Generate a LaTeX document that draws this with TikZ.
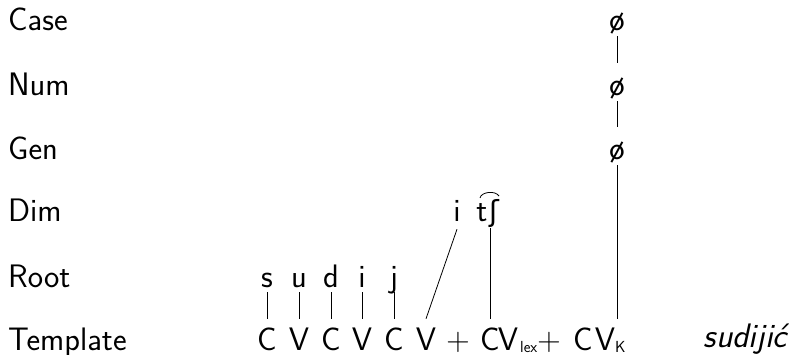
\documentclass[tikz,border=0pt]{standalone}
\usepackage{fontspec}
\newfontfamily\dejavu{DejaVu Sans}
\usetikzlibrary{calc}
\begin{document}
\begin{tikzpicture}[x=1pt,y=-1pt,
  every node/.style={inner sep=0pt, font=\sffamily\fontsize{32.5}{38}\selectfont},
  lbl/.style={anchor=base west},
  seg/.style={anchor=base, text depth=5pt},
  slot/.style={anchor=base, text height=31pt, text depth=0pt},
  plus/.style={anchor=base, font=\rmfamily\fontsize{32.5}{38}\selectfont},
  nul/.style={anchor=base, text height=33pt, text depth=5pt},
  sub/.style={anchor=base west, font=\sffamily\fontsize{16}{18}\selectfont},
  ln/.style={line width=0.8pt}]
\useasboundingbox (0,0) rectangle (789,355);
% row labels
\node[lbl] (lcase) at (8,31) {Case};
\node[lbl] (lnum)  at (8,96) {Num};
\node[lbl] (lgen)  at (8,160) {Gen};
\node[lbl] (ldim)  at (8,222) {Dim};
\node[lbl] (lroot) at (8,287) {Root};
\node[lbl] (ltmp)  at (8,350) {Template};
% root segments
\node[seg] (rs) at (267,287) {s};
\node[seg] (ru) at (299,287) {u};
\node[seg] (rd) at (331,287) {d};
\node[seg] (ri) at (362,287) {i};
\node[seg] (rj) at (394,287) {j};
% template slots
\node[slot] (c1) at (267,350) {C};
\node[slot] (v1) at (299,350) {V};
\node[slot] (c2) at (331,350) {C};
\node[slot] (v2) at (362,350) {V};
\node[slot] (c3) at (394,350) {C};
\node[slot] (v3) at (426,350) {V};
\node[plus] (p1) at (458,350) {+};
\node[slot] (c4) at (490,350) {C};
\node[slot] (v4) at (508,350) {V};
\node[sub]  (lex) at (520,352) {lex};
\node[plus] (p2) at (549,350) {+};
\node[slot] (c5) at (583,350) {C};
\node[slot] (v5) at (605,350) {V};
\node[sub]  (k) at (615,352) {K};
\node[anchor=base east, font=\sffamily\itshape\fontsize{34}{40}\selectfont] (word) at (787,347) {sudijić};
% dim
\node[anchor=base, text depth=7pt] (di) at (457,222) {i};
\node[anchor=base] (dt) at (482,222) {t};
\node[anchor=base, text depth=6pt, font=\dejavu\fontsize{29}{34}\selectfont] (desh) at (494,222) {ʃ};
\draw[ln] ($(dt.base)+(-2,-24)$) .. controls +(1,-6) and +(-4,-6) .. ($(dt.base)+(17,-26)$);
% null exponents
\node[nul] (o1) at (617,31) {ø};
\node[nul] (o2) at (617,96) {ø};
\node[nul] (o3) at (617,160) {ø};
% association lines
\draw[ln] (rs.south) -- (c1.north);
\draw[ln] (ru.south) -- (v1.north);
\draw[ln] (rd.south) -- (c2.north);
\draw[ln] (ri.south) -- (v2.north);
\draw[ln] (rj.south) -- (c3.north);
\draw[ln] (di.south) -- (v3.north);
\draw[ln] (c4.north |- desh.south) -- (c4.north);
\draw[ln] (o1.south) -- (o2.north);
\draw[ln] (o2.south) -- (o3.north);
\draw[ln] (o3.south) -- (o3.south |- v5.north);
\end{tikzpicture}
\end{document}
